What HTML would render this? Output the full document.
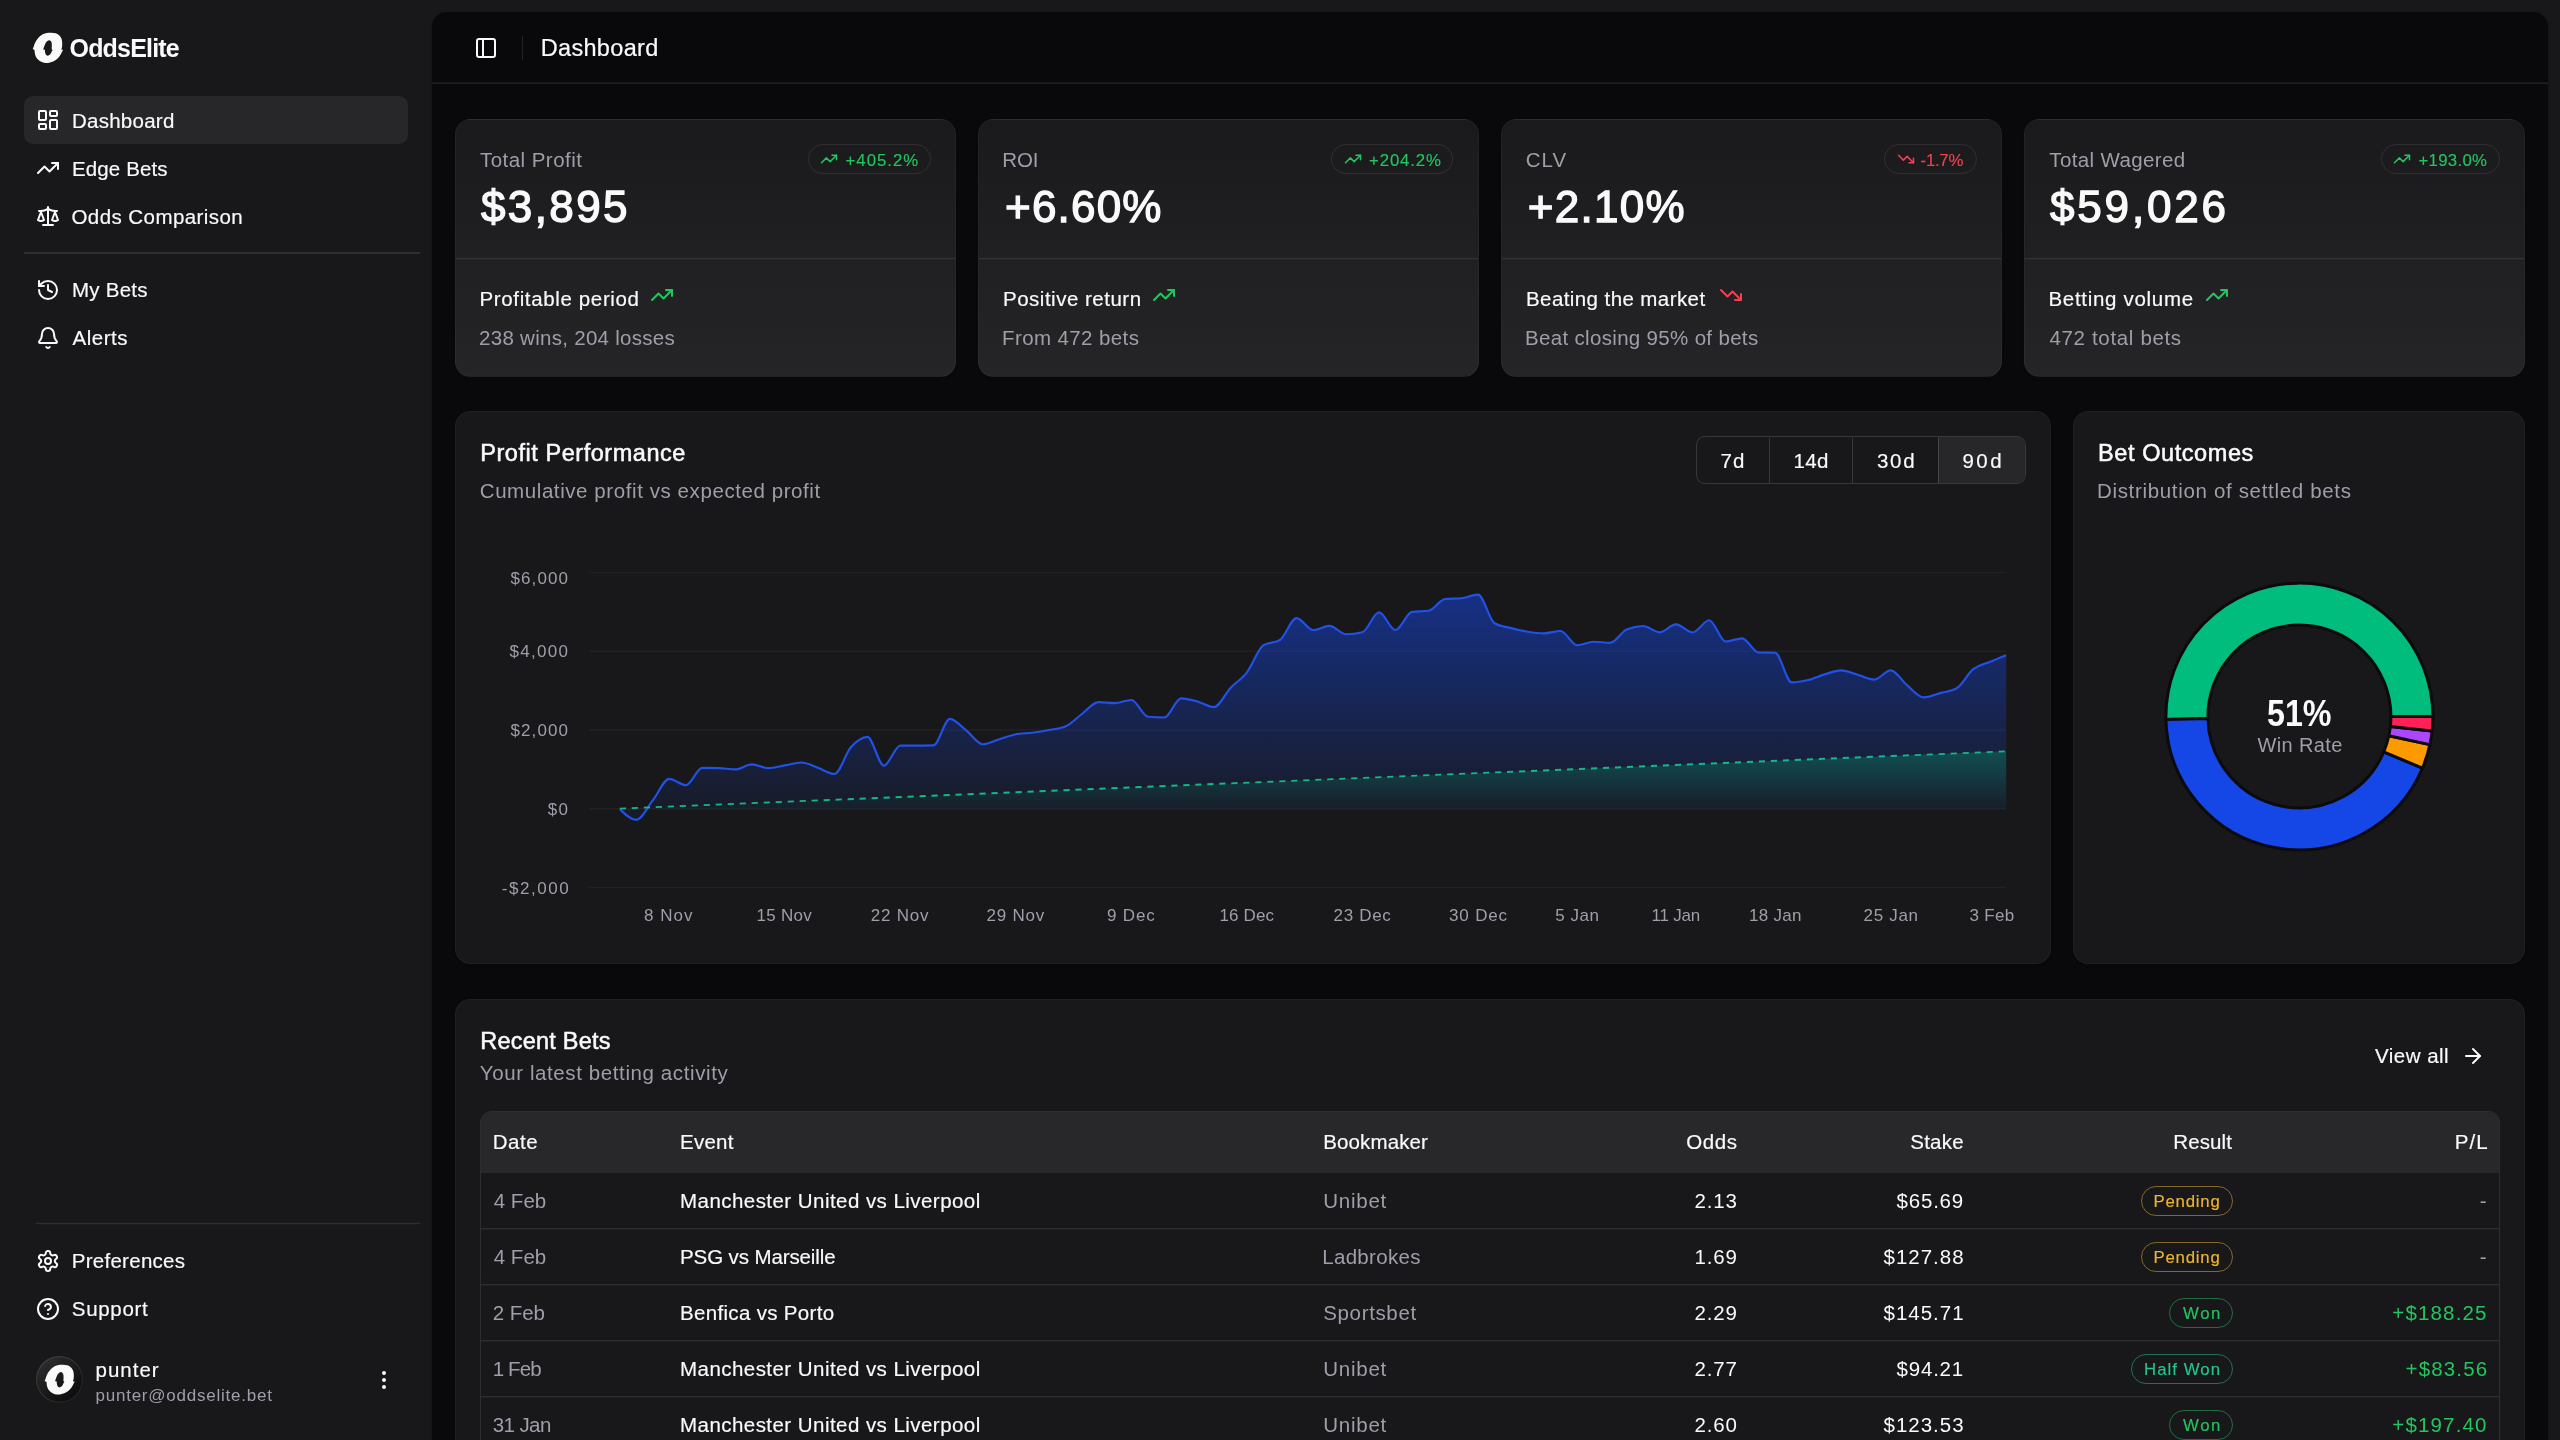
<!DOCTYPE html>
<html lang="en"><head><meta charset="utf-8"><title>OddsElite Dashboard</title><style>
html,body{margin:0;padding:0}
html{width:2560px;height:1440px;overflow:hidden;background:#18181b}
body{width:2560px;height:1440px;overflow:hidden;position:relative;background:#18181b;font-family:"Liberation Sans",sans-serif;color:#fafafa}
.abs,.t,.ic,.card{position:absolute}
.ic{overflow:visible}
.t{white-space:pre;line-height:1}
#txt{position:absolute;left:0;top:0;width:2560px;height:1440px;will-change:transform}
.card{box-sizing:border-box;border:1.5px solid rgba(255,255,255,.035);border-radius:15.5px;background:#18181b;box-shadow:0 1.5px 3px rgba(0,0,0,.05)}
.grad{background:linear-gradient(to bottom,#1a1a1d,#252528)}
</style></head><body>
<div class="abs" style="left:24px;top:96px;width:384px;height:48px;border-radius:9px;background:#27272a"></div>
<div class="abs" style="left:24px;top:252px;width:396px;height:1px;background:rgba(255,255,255,0.1)"></div>
<div class="abs" style="left:24px;top:253px;width:396px;height:1px;background:rgba(255,255,255,0.1)"></div>
<div class="abs" style="left:36px;top:1222px;width:384px;height:1px;background:rgba(255,255,255,0.015)"></div>
<div class="abs" style="left:36px;top:1223px;width:384px;height:1px;background:rgba(255,255,255,0.1)"></div>
<div class="abs" style="left:36px;top:1224px;width:384px;height:1px;background:rgba(255,255,255,0.02)"></div>
<svg class="ic" style="left:33px;top:33px" width="30" height="30" viewBox="0 0 30 30"><path fill="#fafafa" fill-rule="evenodd" d="M18.06,-0.28C19.72,-0.25 21.48,-0.09 22.78,0.28C24.07,0.65 24.95,1.20 25.83,1.94C26.71,2.69 27.52,3.70 28.06,4.72C28.59,5.74 28.83,6.90 29.03,8.06C29.22,9.21 29.25,10.51 29.22,11.67C29.19,12.82 28.97,14.21 28.83,15.00C28.70,15.79 28.20,16.09 28.42,16.39C28.63,16.69 29.85,16.74 30.14,16.81C30.43,16.88 30.25,16.60 30.14,16.81C30.02,17.01 29.79,17.38 29.44,18.06C29.10,18.73 28.66,19.81 28.06,20.83C27.45,21.85 26.71,23.15 25.83,24.17C24.95,25.19 23.84,26.18 22.78,26.94C21.71,27.71 20.56,28.29 19.44,28.75C18.33,29.21 17.22,29.52 16.11,29.72C15.00,29.92 13.89,30.01 12.78,29.94C11.67,29.88 10.56,29.71 9.44,29.31C8.33,28.90 7.08,28.22 6.11,27.50C5.14,26.78 4.26,25.93 3.61,25.00C2.96,24.07 2.55,22.96 2.22,21.94C1.90,20.93 1.78,19.68 1.67,18.89C1.55,18.10 1.85,17.69 1.53,17.22C1.20,16.76 0.02,16.30 -0.28,16.11C-0.58,15.93 -0.42,16.48 -0.28,16.11C-0.14,15.74 0.30,14.63 0.56,13.89C0.81,13.15 0.93,12.50 1.25,11.67C1.57,10.83 1.97,9.81 2.50,8.89C3.03,7.96 3.70,7.04 4.44,6.11C5.19,5.19 6.06,4.14 6.94,3.33C7.82,2.52 8.75,1.78 9.72,1.25C10.69,0.72 11.39,0.39 12.78,0.14C14.17,-0.12 16.39,-0.30 18.06,-0.28ZM16.11,7.22C16.67,7.25 17.36,7.59 17.78,8.06C18.19,8.52 18.44,9.21 18.61,10.00C18.78,10.79 18.80,11.85 18.81,12.78C18.81,13.70 18.65,14.93 18.67,15.56C18.68,16.18 18.69,16.25 18.89,16.53C19.09,16.81 19.70,17.11 19.86,17.22C20.02,17.34 20.02,17.08 19.86,17.22C19.70,17.36 19.19,17.59 18.89,18.06C18.59,18.52 18.43,19.40 18.06,20.00C17.69,20.60 17.18,21.23 16.67,21.67C16.16,22.11 15.51,22.52 15.00,22.64C14.49,22.75 14.03,22.66 13.61,22.36C13.19,22.06 12.78,21.46 12.50,20.83C12.22,20.21 12.05,19.26 11.94,18.61C11.84,17.96 12.19,17.29 11.89,16.94C11.59,16.60 10.43,16.60 10.14,16.53C9.85,16.46 10.02,16.88 10.14,16.53C10.25,16.18 10.58,15.16 10.83,14.44C11.09,13.73 11.34,13.01 11.67,12.22C11.99,11.44 12.31,10.44 12.78,9.72C13.24,9.00 13.89,8.33 14.44,7.92C15.00,7.50 15.56,7.20 16.11,7.22Z"/></svg>
<svg class="ic" style="left:36px;top:108px" width="24" height="24" viewBox="0 0 24 24" fill="none" stroke="#fafafa" stroke-width="2" stroke-linecap="round" stroke-linejoin="round"><rect width="7" height="9" x="3" y="3" rx="1"/><rect width="7" height="5" x="14" y="3" rx="1"/><rect width="7" height="9" x="14" y="12" rx="1"/><rect width="7" height="5" x="3" y="16" rx="1"/></svg>
<svg class="ic" style="left:36px;top:156px" width="24" height="24" viewBox="0 0 24 24" fill="none" stroke="#fafafa" stroke-width="2" stroke-linecap="round" stroke-linejoin="round"><polyline points="22 7 13.5 15.5 8.5 10.5 2 17"/><polyline points="16 7 22 7 22 13"/></svg>
<svg class="ic" style="left:36px;top:204px" width="24" height="24" viewBox="0 0 24 24" fill="none" stroke="#fafafa" stroke-width="2" stroke-linecap="round" stroke-linejoin="round"><path d="m16 16 3-8 3 8c-.87.65-1.92 1-3 1s-2.13-.35-3-1Z"/><path d="m2 16 3-8 3 8c-.87.65-1.92 1-3 1s-2.13-.35-3-1Z"/><path d="M7 21h10"/><path d="M12 3v18"/><path d="M3 7h2c2 0 5-1 7-2 2 1 5 2 7 2h2"/></svg>
<svg class="ic" style="left:36px;top:277.5px" width="24" height="24" viewBox="0 0 24 24" fill="none" stroke="#fafafa" stroke-width="2" stroke-linecap="round" stroke-linejoin="round"><path d="M3 12a9 9 0 1 0 9-9 9.75 9.75 0 0 0-6.74 2.74L3 8"/><path d="M3 3v5h5"/><path d="M12 7v5l4 2"/></svg>
<svg class="ic" style="left:36px;top:325.5px" width="24" height="24" viewBox="0 0 24 24" fill="none" stroke="#fafafa" stroke-width="2" stroke-linecap="round" stroke-linejoin="round"><path d="M10.268 21a2 2 0 0 0 3.464 0"/><path d="M3.262 15.326A1 1 0 0 0 4 17h16a1 1 0 0 0 .74-1.673C19.41 13.956 18 12.499 18 8A6 6 0 0 0 6 8c0 4.499-1.411 5.956-2.738 7.326"/></svg>
<svg class="ic" style="left:36px;top:1248.5px" width="24" height="24" viewBox="0 0 24 24" fill="none" stroke="#fafafa" stroke-width="2" stroke-linecap="round" stroke-linejoin="round"><path d="M12.22 2h-.44a2 2 0 0 0-2 2v.18a2 2 0 0 1-1 1.73l-.43.25a2 2 0 0 1-2 0l-.15-.08a2 2 0 0 0-2.73.73l-.22.38a2 2 0 0 0 .73 2.73l.15.1a2 2 0 0 1 1 1.72v.51a2 2 0 0 1-1 1.74l-.15.09a2 2 0 0 0-.73 2.73l.22.38a2 2 0 0 0 2.73.73l.15-.08a2 2 0 0 1 2 0l.43.25a2 2 0 0 1 1 1.73V20a2 2 0 0 0 2 2h.44a2 2 0 0 0 2-2v-.18a2 2 0 0 1 1-1.73l.43-.25a2 2 0 0 1 2 0l.15.08a2 2 0 0 0 2.73-.73l.22-.39a2 2 0 0 0-.73-2.73l-.15-.08a2 2 0 0 1-1-1.74v-.5a2 2 0 0 1 1-1.74l.15-.09a2 2 0 0 0 .73-2.73l-.22-.38a2 2 0 0 0-2.73-.73l-.15.08a2 2 0 0 1-2 0l-.43-.25a2 2 0 0 1-1-1.73V4a2 2 0 0 0-2-2z"/><circle cx="12" cy="12" r="3"/></svg>
<svg class="ic" style="left:36px;top:1296.75px" width="24" height="24" viewBox="0 0 24 24" fill="none" stroke="#fafafa" stroke-width="2" stroke-linecap="round" stroke-linejoin="round"><circle cx="12" cy="12" r="10"/><path d="M9.09 9a3 3 0 0 1 5.83 1c0 2-3 3-3 3"/><path d="M12 17h.01"/></svg>
<div class="abs" style="left:35.9px;top:1355.8px;width:47.4px;height:47.2px;border-radius:50%;background:linear-gradient(140deg,#303031 5%,#1a1a1b 50%,#09090a 95%);box-shadow:inset 0 0 0 1.2px rgba(255,255,255,.09)"></div>
<svg class="ic" style="left:44.9px;top:1365.4px" width="29.6" height="29.6" viewBox="0 0 30 30"><path fill="#fafafa" fill-rule="evenodd" d="M18.06,-0.28C19.72,-0.25 21.48,-0.09 22.78,0.28C24.07,0.65 24.95,1.20 25.83,1.94C26.71,2.69 27.52,3.70 28.06,4.72C28.59,5.74 28.83,6.90 29.03,8.06C29.22,9.21 29.25,10.51 29.22,11.67C29.19,12.82 28.97,14.21 28.83,15.00C28.70,15.79 28.20,16.09 28.42,16.39C28.63,16.69 29.85,16.74 30.14,16.81C30.43,16.88 30.25,16.60 30.14,16.81C30.02,17.01 29.79,17.38 29.44,18.06C29.10,18.73 28.66,19.81 28.06,20.83C27.45,21.85 26.71,23.15 25.83,24.17C24.95,25.19 23.84,26.18 22.78,26.94C21.71,27.71 20.56,28.29 19.44,28.75C18.33,29.21 17.22,29.52 16.11,29.72C15.00,29.92 13.89,30.01 12.78,29.94C11.67,29.88 10.56,29.71 9.44,29.31C8.33,28.90 7.08,28.22 6.11,27.50C5.14,26.78 4.26,25.93 3.61,25.00C2.96,24.07 2.55,22.96 2.22,21.94C1.90,20.93 1.78,19.68 1.67,18.89C1.55,18.10 1.85,17.69 1.53,17.22C1.20,16.76 0.02,16.30 -0.28,16.11C-0.58,15.93 -0.42,16.48 -0.28,16.11C-0.14,15.74 0.30,14.63 0.56,13.89C0.81,13.15 0.93,12.50 1.25,11.67C1.57,10.83 1.97,9.81 2.50,8.89C3.03,7.96 3.70,7.04 4.44,6.11C5.19,5.19 6.06,4.14 6.94,3.33C7.82,2.52 8.75,1.78 9.72,1.25C10.69,0.72 11.39,0.39 12.78,0.14C14.17,-0.12 16.39,-0.30 18.06,-0.28ZM16.11,7.22C16.67,7.25 17.36,7.59 17.78,8.06C18.19,8.52 18.44,9.21 18.61,10.00C18.78,10.79 18.80,11.85 18.81,12.78C18.81,13.70 18.65,14.93 18.67,15.56C18.68,16.18 18.69,16.25 18.89,16.53C19.09,16.81 19.70,17.11 19.86,17.22C20.02,17.34 20.02,17.08 19.86,17.22C19.70,17.36 19.19,17.59 18.89,18.06C18.59,18.52 18.43,19.40 18.06,20.00C17.69,20.60 17.18,21.23 16.67,21.67C16.16,22.11 15.51,22.52 15.00,22.64C14.49,22.75 14.03,22.66 13.61,22.36C13.19,22.06 12.78,21.46 12.50,20.83C12.22,20.21 12.05,19.26 11.94,18.61C11.84,17.96 12.19,17.29 11.89,16.94C11.59,16.60 10.43,16.60 10.14,16.53C9.85,16.46 10.02,16.88 10.14,16.53C10.25,16.18 10.58,15.16 10.83,14.44C11.09,13.73 11.34,13.01 11.67,12.22C11.99,11.44 12.31,10.44 12.78,9.72C13.24,9.00 13.89,8.33 14.44,7.92C15.00,7.50 15.56,7.20 16.11,7.22Z"/></svg>
<svg class="ic" style="left:372px;top:1368px" width="24" height="24" viewBox="0 0 24 24" fill="none" stroke="#fafafa" stroke-width="2" stroke-linecap="round" stroke-linejoin="round"><circle cx="12" cy="12" r="1"/><circle cx="12" cy="5" r="1"/><circle cx="12" cy="19" r="1"/></svg>
<div class="abs" style="left:432px;top:12px;width:2116px;height:1428px;border-radius:15px 15px 0 0;background:#09090b;box-shadow:0 1px 3px rgba(0,0,0,.3)"></div>
<div class="abs" style="left:432px;top:82px;width:2116px;height:1px;background:rgba(255,255,255,0.05)"></div>
<div class="abs" style="left:432px;top:83px;width:2116px;height:1px;background:rgba(255,255,255,0.09)"></div>
<svg class="ic" style="left:474px;top:36px" width="24" height="24" viewBox="0 0 24 24" fill="none" stroke="#fafafa" stroke-width="2" stroke-linecap="round" stroke-linejoin="round"><rect width="18" height="18" x="3" y="3" rx="2"/><path d="M9 3v18"/></svg>
<div class="abs" style="left:521.7px;top:36px;width:1.5px;height:24px;background:#232326"></div>
<div class="card grad" style="left:455px;top:118.7px;width:501.3px;height:258.8px"></div>
<div class="abs" style="left:456px;top:258px;width:499.3px;height:1px;background:rgba(255,255,255,0.085)"></div>
<div class="abs" style="left:456px;top:259px;width:499.3px;height:1px;background:rgba(255,255,255,0.025)"></div>
<div class="card grad" style="left:978px;top:118.7px;width:501.3px;height:258.8px"></div>
<div class="abs" style="left:979px;top:258px;width:499.3px;height:1px;background:rgba(255,255,255,0.085)"></div>
<div class="abs" style="left:979px;top:259px;width:499.3px;height:1px;background:rgba(255,255,255,0.025)"></div>
<div class="card grad" style="left:1501px;top:118.7px;width:501.3px;height:258.8px"></div>
<div class="abs" style="left:1502px;top:258px;width:499.3px;height:1px;background:rgba(255,255,255,0.085)"></div>
<div class="abs" style="left:1502px;top:259px;width:499.3px;height:1px;background:rgba(255,255,255,0.025)"></div>
<div class="card grad" style="left:2024px;top:118.7px;width:501.3px;height:258.8px"></div>
<div class="abs" style="left:2025px;top:258px;width:499.3px;height:1px;background:rgba(255,255,255,0.085)"></div>
<div class="abs" style="left:2025px;top:259px;width:499.3px;height:1px;background:rgba(255,255,255,0.025)"></div>
<div class="abs" style="left:808px;top:144.25px;width:122.75px;height:29.5px;border-radius:15px;border:1.5px solid rgba(255,255,255,.085);box-sizing:border-box"></div>
<svg class="ic" style="left:820.4px;top:149.8px" width="18" height="18" viewBox="0 0 24 24" fill="none" stroke="#22c55e" stroke-width="2" stroke-linecap="round" stroke-linejoin="round"><polyline points="22 7 13.5 15.5 8.5 10.5 2 17"/><polyline points="16 7 22 7 22 13"/></svg>
<div class="abs" style="left:1331.25px;top:144.25px;width:122.0px;height:29.5px;border-radius:15px;border:1.5px solid rgba(255,255,255,.085);box-sizing:border-box"></div>
<svg class="ic" style="left:1343.65px;top:149.8px" width="18" height="18" viewBox="0 0 24 24" fill="none" stroke="#22c55e" stroke-width="2" stroke-linecap="round" stroke-linejoin="round"><polyline points="22 7 13.5 15.5 8.5 10.5 2 17"/><polyline points="16 7 22 7 22 13"/></svg>
<div class="abs" style="left:1884.25px;top:144.25px;width:92.75px;height:29.5px;border-radius:15px;border:1.5px solid rgba(255,255,255,.085);box-sizing:border-box"></div>
<svg class="ic" style="left:1896.65px;top:149.8px" width="18" height="18" viewBox="0 0 24 24" fill="none" stroke="#f2404f" stroke-width="2" stroke-linecap="round" stroke-linejoin="round"><polyline points="22 17 13.5 8.5 8.5 13.5 2 7"/><polyline points="16 17 22 17 22 11"/></svg>
<div class="abs" style="left:2380.75px;top:144.25px;width:118.75px;height:29.5px;border-radius:15px;border:1.5px solid rgba(255,255,255,.085);box-sizing:border-box"></div>
<svg class="ic" style="left:2393.15px;top:149.8px" width="18" height="18" viewBox="0 0 24 24" fill="none" stroke="#22c55e" stroke-width="2" stroke-linecap="round" stroke-linejoin="round"><polyline points="22 7 13.5 15.5 8.5 10.5 2 17"/><polyline points="16 7 22 7 22 13"/></svg>
<svg class="ic" style="left:649.7px;top:283.3px" width="24" height="24" viewBox="0 0 24 24" fill="none" stroke="#22c55e" stroke-width="2" stroke-linecap="round" stroke-linejoin="round"><polyline points="22 7 13.5 15.5 8.5 10.5 2 17"/><polyline points="16 7 22 7 22 13"/></svg>
<svg class="ic" style="left:1152px;top:283.3px" width="24" height="24" viewBox="0 0 24 24" fill="none" stroke="#22c55e" stroke-width="2" stroke-linecap="round" stroke-linejoin="round"><polyline points="22 7 13.5 15.5 8.5 10.5 2 17"/><polyline points="16 7 22 7 22 13"/></svg>
<svg class="ic" style="left:1718.7px;top:283.3px" width="24" height="24" viewBox="0 0 24 24" fill="none" stroke="#f2404f" stroke-width="2" stroke-linecap="round" stroke-linejoin="round"><polyline points="22 17 13.5 8.5 8.5 13.5 2 7"/><polyline points="16 17 22 17 22 11"/></svg>
<svg class="ic" style="left:2205.2px;top:283.3px" width="24" height="24" viewBox="0 0 24 24" fill="none" stroke="#22c55e" stroke-width="2" stroke-linecap="round" stroke-linejoin="round"><polyline points="22 7 13.5 15.5 8.5 10.5 2 17"/><polyline points="16 7 22 7 22 13"/></svg>
<div class="card" style="left:455px;top:411.2px;width:1596.3px;height:553.3px"></div>
<div class="abs" style="left:1696px;top:436.3px;width:330px;height:47.6px;border-radius:9px;border:1.5px solid rgba(255,255,255,.14);box-sizing:border-box;overflow:hidden"><div class="abs" style="left:241px;top:-1.5px;width:89px;height:47.2px;background:#27272a"></div></div>
<div class="abs" style="left:1768.65px;top:437.5px;width:1.5px;height:45px;background:rgba(255,255,255,.14)"></div>
<div class="abs" style="left:1851.75px;top:437.5px;width:1.5px;height:45px;background:rgba(255,255,255,.14)"></div>
<div class="abs" style="left:1937.65px;top:437.5px;width:1.5px;height:45px;background:rgba(255,255,255,.14)"></div>
<svg class="ic" style="left:0;top:0" width="2560" height="1440" viewBox="0 0 2560 1440">
<defs>
<linearGradient id="gb" gradientUnits="userSpaceOnUse" x1="0" y1="594" x2="0" y2="820"><stop offset="0.05" stop-color="#1447e6" stop-opacity="0.5"/><stop offset="0.95" stop-color="#1447e6" stop-opacity="0.06"/></linearGradient>
<linearGradient id="gg" gradientUnits="userSpaceOnUse" x1="0" y1="751" x2="0" y2="809"><stop offset="0.05" stop-color="#00bc7d" stop-opacity="0.28"/><stop offset="0.95" stop-color="#00bc7d" stop-opacity="0.03"/></linearGradient>
</defs>
<g stroke="rgba(255,255,255,.045)" stroke-width="1.5"><line x1="589.5" x2="2006.2" y1="572.4" y2="572.4"/><line x1="589.5" x2="2006.2" y1="651.2" y2="651.2"/><line x1="589.5" x2="2006.2" y1="730" y2="730"/><line x1="589.5" x2="2006.2" y1="808.75" y2="808.75"/><line x1="589.5" x2="2006.2" y1="887.4" y2="887.4"/></g>
<path d="M619.8,809.2C625.3,814.5 630.8,819.8 636.3,819.8C641.8,819.8 647.3,807.2 652.8,800.4C658.3,793.6 663.8,778.8 669.3,778.8C674.8,778.8 680.3,785.2 685.8,785.2C691.3,785.2 696.8,767.9 702.3,767.9C707.8,767.9 713.3,768.0 718.8,768.1C724.3,768.2 729.8,769.4 735.3,769.4C740.8,769.4 746.3,764.4 751.8,764.4C757.3,764.4 762.8,768.1 768.3,768.1C773.8,768.1 779.3,766.3 784.8,765.4C790.3,764.5 795.9,762.5 801.4,762.5C806.9,762.5 812.4,765.8 817.9,767.7C823.4,769.6 828.9,774.0 834.4,774.0C839.9,774.0 845.4,753.5 850.9,747.3C856.4,741.1 861.9,736.9 867.4,736.9C872.9,736.9 878.4,765.6 883.9,765.6C889.4,765.6 894.9,745.6 900.4,745.6C905.9,745.6 911.4,745.6 916.9,745.6C922.4,745.6 927.9,745.5 933.4,745.4C938.9,745.3 944.4,718.8 949.9,718.8C955.4,718.8 960.9,726.4 966.4,730.6C971.9,734.8 977.4,744.2 982.9,744.2C988.4,744.2 993.9,740.9 999.4,739.2C1004.9,737.5 1010.4,735.2 1015.9,734.2C1021.4,733.2 1026.9,733.4 1032.4,732.7C1037.9,732.0 1043.4,731.0 1048.9,730.0C1054.4,729.0 1059.9,728.8 1065.4,726.5C1070.9,724.2 1076.4,718.1 1081.9,714.0C1087.4,709.9 1092.9,702.1 1098.4,702.1C1103.9,702.1 1109.4,703.1 1114.9,703.1C1120.4,703.1 1125.9,700.0 1131.4,700.0C1136.9,700.0 1142.5,716.2 1148.0,716.7C1153.5,717.2 1159.0,717.5 1164.5,717.5C1170.0,717.5 1175.5,698.3 1181.0,698.3C1186.5,698.3 1192.0,700.0 1197.5,701.5C1203.0,703.0 1208.5,707.1 1214.0,707.1C1219.5,707.1 1225.0,693.7 1230.5,687.9C1236.0,682.1 1241.5,679.4 1247.0,672.3C1252.5,665.2 1258.0,648.7 1263.5,645.2C1269.0,641.7 1274.5,643.5 1280.0,640.0C1285.5,636.5 1291.0,618.1 1296.5,618.1C1302.0,618.1 1307.5,630.0 1313.0,630.0C1318.5,630.0 1324.0,625.8 1329.5,625.8C1335.0,625.8 1340.5,634.2 1346.0,634.2C1351.5,634.2 1357.0,633.5 1362.5,632.2C1368.0,630.9 1373.5,612.4 1379.0,612.4C1384.5,612.4 1390.0,630.0 1395.5,630.0C1401.0,630.0 1406.5,612.6 1412.0,611.9C1417.5,611.2 1423.0,611.5 1428.5,610.8C1434.0,610.1 1439.5,599.5 1445.0,599.0C1450.5,598.5 1456.0,598.8 1461.5,598.3C1467.0,597.8 1472.5,594.6 1478.0,594.6C1483.5,594.6 1489.1,620.1 1494.6,623.3C1500.1,626.5 1505.6,626.7 1511.1,628.1C1516.6,629.5 1522.1,630.8 1527.6,631.7C1533.1,632.6 1538.6,633.3 1544.1,633.3C1549.6,633.3 1555.1,631.0 1560.6,631.0C1566.1,631.0 1571.6,645.2 1577.1,645.2C1582.6,645.2 1588.1,641.7 1593.6,641.7C1599.1,641.7 1604.6,642.9 1610.1,642.9C1615.6,642.9 1621.1,632.0 1626.6,629.6C1632.1,627.2 1637.6,626.0 1643.1,626.0C1648.6,626.0 1654.1,632.3 1659.6,632.3C1665.1,632.3 1670.6,624.4 1676.1,624.4C1681.6,624.4 1687.1,632.5 1692.6,632.5C1698.1,632.5 1703.6,620.2 1709.1,620.2C1714.6,620.2 1720.1,641.5 1725.6,641.5C1731.1,641.5 1736.6,638.3 1742.1,638.3C1747.6,638.3 1753.1,652.4 1758.6,652.5C1764.1,652.6 1769.6,652.6 1775.1,652.7C1780.6,652.8 1786.1,682.3 1791.6,682.3C1797.1,682.3 1802.6,681.3 1808.1,680.0C1813.6,678.7 1819.1,676.0 1824.6,674.4C1830.1,672.8 1835.7,670.4 1841.2,670.4C1846.7,670.4 1852.2,673.3 1857.7,674.8C1863.2,676.3 1868.7,679.6 1874.2,679.6C1879.7,679.6 1885.2,670.4 1890.7,670.4C1896.2,670.4 1901.7,680.9 1907.2,685.4C1912.7,689.9 1918.2,697.3 1923.7,697.3C1929.2,697.3 1934.7,694.6 1940.2,693.1C1945.7,691.6 1951.2,691.5 1956.7,688.3C1962.2,685.1 1967.7,673.6 1973.2,669.2C1978.7,664.8 1984.2,664.2 1989.7,661.9C1995.2,659.6 2000.7,657.4 2006.2,655.2L2006.2,808.75L619.8,808.75Z" fill="url(#gb)"/>
<path d="M619.8,809.2C625.3,814.5 630.8,819.8 636.3,819.8C641.8,819.8 647.3,807.2 652.8,800.4C658.3,793.6 663.8,778.8 669.3,778.8C674.8,778.8 680.3,785.2 685.8,785.2C691.3,785.2 696.8,767.9 702.3,767.9C707.8,767.9 713.3,768.0 718.8,768.1C724.3,768.2 729.8,769.4 735.3,769.4C740.8,769.4 746.3,764.4 751.8,764.4C757.3,764.4 762.8,768.1 768.3,768.1C773.8,768.1 779.3,766.3 784.8,765.4C790.3,764.5 795.9,762.5 801.4,762.5C806.9,762.5 812.4,765.8 817.9,767.7C823.4,769.6 828.9,774.0 834.4,774.0C839.9,774.0 845.4,753.5 850.9,747.3C856.4,741.1 861.9,736.9 867.4,736.9C872.9,736.9 878.4,765.6 883.9,765.6C889.4,765.6 894.9,745.6 900.4,745.6C905.9,745.6 911.4,745.6 916.9,745.6C922.4,745.6 927.9,745.5 933.4,745.4C938.9,745.3 944.4,718.8 949.9,718.8C955.4,718.8 960.9,726.4 966.4,730.6C971.9,734.8 977.4,744.2 982.9,744.2C988.4,744.2 993.9,740.9 999.4,739.2C1004.9,737.5 1010.4,735.2 1015.9,734.2C1021.4,733.2 1026.9,733.4 1032.4,732.7C1037.9,732.0 1043.4,731.0 1048.9,730.0C1054.4,729.0 1059.9,728.8 1065.4,726.5C1070.9,724.2 1076.4,718.1 1081.9,714.0C1087.4,709.9 1092.9,702.1 1098.4,702.1C1103.9,702.1 1109.4,703.1 1114.9,703.1C1120.4,703.1 1125.9,700.0 1131.4,700.0C1136.9,700.0 1142.5,716.2 1148.0,716.7C1153.5,717.2 1159.0,717.5 1164.5,717.5C1170.0,717.5 1175.5,698.3 1181.0,698.3C1186.5,698.3 1192.0,700.0 1197.5,701.5C1203.0,703.0 1208.5,707.1 1214.0,707.1C1219.5,707.1 1225.0,693.7 1230.5,687.9C1236.0,682.1 1241.5,679.4 1247.0,672.3C1252.5,665.2 1258.0,648.7 1263.5,645.2C1269.0,641.7 1274.5,643.5 1280.0,640.0C1285.5,636.5 1291.0,618.1 1296.5,618.1C1302.0,618.1 1307.5,630.0 1313.0,630.0C1318.5,630.0 1324.0,625.8 1329.5,625.8C1335.0,625.8 1340.5,634.2 1346.0,634.2C1351.5,634.2 1357.0,633.5 1362.5,632.2C1368.0,630.9 1373.5,612.4 1379.0,612.4C1384.5,612.4 1390.0,630.0 1395.5,630.0C1401.0,630.0 1406.5,612.6 1412.0,611.9C1417.5,611.2 1423.0,611.5 1428.5,610.8C1434.0,610.1 1439.5,599.5 1445.0,599.0C1450.5,598.5 1456.0,598.8 1461.5,598.3C1467.0,597.8 1472.5,594.6 1478.0,594.6C1483.5,594.6 1489.1,620.1 1494.6,623.3C1500.1,626.5 1505.6,626.7 1511.1,628.1C1516.6,629.5 1522.1,630.8 1527.6,631.7C1533.1,632.6 1538.6,633.3 1544.1,633.3C1549.6,633.3 1555.1,631.0 1560.6,631.0C1566.1,631.0 1571.6,645.2 1577.1,645.2C1582.6,645.2 1588.1,641.7 1593.6,641.7C1599.1,641.7 1604.6,642.9 1610.1,642.9C1615.6,642.9 1621.1,632.0 1626.6,629.6C1632.1,627.2 1637.6,626.0 1643.1,626.0C1648.6,626.0 1654.1,632.3 1659.6,632.3C1665.1,632.3 1670.6,624.4 1676.1,624.4C1681.6,624.4 1687.1,632.5 1692.6,632.5C1698.1,632.5 1703.6,620.2 1709.1,620.2C1714.6,620.2 1720.1,641.5 1725.6,641.5C1731.1,641.5 1736.6,638.3 1742.1,638.3C1747.6,638.3 1753.1,652.4 1758.6,652.5C1764.1,652.6 1769.6,652.6 1775.1,652.7C1780.6,652.8 1786.1,682.3 1791.6,682.3C1797.1,682.3 1802.6,681.3 1808.1,680.0C1813.6,678.7 1819.1,676.0 1824.6,674.4C1830.1,672.8 1835.7,670.4 1841.2,670.4C1846.7,670.4 1852.2,673.3 1857.7,674.8C1863.2,676.3 1868.7,679.6 1874.2,679.6C1879.7,679.6 1885.2,670.4 1890.7,670.4C1896.2,670.4 1901.7,680.9 1907.2,685.4C1912.7,689.9 1918.2,697.3 1923.7,697.3C1929.2,697.3 1934.7,694.6 1940.2,693.1C1945.7,691.6 1951.2,691.5 1956.7,688.3C1962.2,685.1 1967.7,673.6 1973.2,669.2C1978.7,664.8 1984.2,664.2 1989.7,661.9C1995.2,659.6 2000.7,657.4 2006.2,655.2" fill="none" stroke="#2151e8" stroke-width="2.15" stroke-linejoin="round"/>
<path d="M619.8,808.6L2006.2,751.3L2006.2,808.75L619.8,808.75Z" fill="url(#gg)"/>
<path d="M619.8,808.6L2006.2,751.3" fill="none" stroke="#14b886" stroke-width="1.9" stroke-dasharray="6.2 5.8"/>
</svg>
<div class="card" style="left:2073px;top:411.2px;width:452px;height:553.3px"></div>
<svg class="ic" style="left:0;top:0" width="2560" height="1440" viewBox="0 0 2560 1440"><g stroke="#0b0b0d" stroke-width="3" stroke-linejoin="round"><path d="M2432.90,716.40A133.5,133.5 0 1 0 2165.93,719.43L2207.92,718.48A91.5,91.5 0 1 1 2390.90,716.40Z" fill="#00bc7d"/><path d="M2165.93,719.43A133.5,133.5 0 0 0 2422.47,768.13L2383.75,751.86A91.5,91.5 0 0 1 2207.92,718.48Z" fill="#1447e6"/><path d="M2422.47,768.13A133.5,133.5 0 0 0 2429.89,744.61L2388.83,735.74A91.5,91.5 0 0 1 2383.75,751.86Z" fill="#fe9a00"/><path d="M2429.89,744.61A133.5,133.5 0 0 0 2432.09,731.05L2390.35,726.44A91.5,91.5 0 0 1 2388.83,735.74Z" fill="#ad46ff"/><path d="M2432.09,731.05A133.5,133.5 0 0 0 2432.90,716.40L2390.90,716.40A91.5,91.5 0 0 1 2390.35,726.44Z" fill="#ff2056"/></g></svg>
<div class="card" style="left:455px;top:999.4px;width:2070px;height:440.6px;border-bottom:0;border-radius:15.5px 15.5px 0 0"></div>
<svg class="ic" style="left:2460.5px;top:1043.8px" width="24" height="24" viewBox="0 0 24 24" fill="none" stroke="#fafafa" stroke-width="2" stroke-linecap="round" stroke-linejoin="round"><path d="M5 12h14"/><path d="m12 5 7 7-7 7"/></svg>
<div class="abs" style="left:480px;top:1111px;width:2019.5px;height:329px;border-radius:12px 12px 0 0;border:1.5px solid rgba(255,255,255,.095);border-bottom:0;box-sizing:border-box;overflow:hidden"><div class="abs" style="left:0;top:0;width:2020px;height:60.5px;background:#28282b"></div></div>
<div class="abs" style="left:481px;top:1228px;width:2017.5px;height:1px;background:rgba(255,255,255,0.095)"></div>
<div class="abs" style="left:481px;top:1229px;width:2017.5px;height:1px;background:rgba(255,255,255,0.035)"></div>
<div class="abs" style="left:481px;top:1284px;width:2017.5px;height:1px;background:rgba(255,255,255,0.095)"></div>
<div class="abs" style="left:481px;top:1285px;width:2017.5px;height:1px;background:rgba(255,255,255,0.035)"></div>
<div class="abs" style="left:481px;top:1340px;width:2017.5px;height:1px;background:rgba(255,255,255,0.095)"></div>
<div class="abs" style="left:481px;top:1341px;width:2017.5px;height:1px;background:rgba(255,255,255,0.035)"></div>
<div class="abs" style="left:481px;top:1396px;width:2017.5px;height:1px;background:rgba(255,255,255,0.095)"></div>
<div class="abs" style="left:481px;top:1397px;width:2017.5px;height:1px;background:rgba(255,255,255,0.035)"></div>
<div class="abs" style="left:2140.75px;top:1186.00px;width:91.75px;height:29.5px;border-radius:15px;border:1.5px solid rgba(239,182,44,.5);box-sizing:border-box"></div>
<div class="abs" style="left:2140.75px;top:1242.00px;width:91.75px;height:29.5px;border-radius:15px;border:1.5px solid rgba(239,182,44,.5);box-sizing:border-box"></div>
<div class="abs" style="left:2168.75px;top:1298.00px;width:63.75px;height:29.5px;border-radius:15px;border:1.5px solid rgba(34,197,94,.5);box-sizing:border-box"></div>
<div class="abs" style="left:2130.75px;top:1354.00px;width:101.75px;height:29.5px;border-radius:15px;border:1.5px solid rgba(34,199,139,.5);box-sizing:border-box"></div>
<div class="abs" style="left:2168.75px;top:1410.00px;width:63.75px;height:29.5px;border-radius:15px;border:1.5px solid rgba(34,197,94,.5);box-sizing:border-box"></div>
<div id="txt">
<span class="t" style="left:69.50px;top:36.33px;font-size:25px;color:#fafafa;letter-spacing:-0.812px;font-weight:700;">OddsElite</span>
<span class="t" style="left:72.00px;top:110.64px;font-size:20.5px;color:#fafafa;letter-spacing:0.250px;-webkit-text-stroke:0.18px #fafafa;">Dashboard</span>
<span class="t" style="left:72.00px;top:158.64px;font-size:20.5px;color:#fafafa;letter-spacing:0.125px;-webkit-text-stroke:0.18px #fafafa;">Edge Bets</span>
<span class="t" style="left:71.50px;top:206.64px;font-size:20.5px;color:#fafafa;letter-spacing:0.429px;-webkit-text-stroke:0.18px #fafafa;">Odds Comparison</span>
<span class="t" style="left:72.00px;top:280.14px;font-size:20.5px;color:#fafafa;letter-spacing:0.250px;-webkit-text-stroke:0.18px #fafafa;">My Bets</span>
<span class="t" style="left:72.50px;top:328.14px;font-size:20.5px;color:#fafafa;letter-spacing:0.500px;-webkit-text-stroke:0.18px #fafafa;">Alerts</span>
<span class="t" style="left:71.75px;top:1251.14px;font-size:20.5px;color:#fafafa;letter-spacing:0.275px;-webkit-text-stroke:0.18px #fafafa;">Preferences</span>
<span class="t" style="left:71.75px;top:1299.34px;font-size:20.5px;color:#fafafa;letter-spacing:0.708px;-webkit-text-stroke:0.18px #fafafa;">Support</span>
<span class="t" style="left:95.50px;top:1359.54px;font-size:20.5px;color:#fafafa;letter-spacing:1.000px;-webkit-text-stroke:0.18px #fafafa;">punter</span>
<span class="t" style="left:95.50px;top:1386.61px;font-size:17.0px;color:#9f9fa9;letter-spacing:0.763px;">punter@oddselite.bet</span>
<span class="t" style="left:540.70px;top:36.80px;font-size:23.5px;color:#fafafa;letter-spacing:0.325px;-webkit-text-stroke:0.21px #fafafa;">Dashboard</span>
<span class="t" style="left:480.00px;top:149.64px;font-size:20.5px;color:#9f9fa9;letter-spacing:0.455px;">Total Profit</span>
<span class="t" style="left:1002.25px;top:149.64px;font-size:20.5px;color:#9f9fa9;letter-spacing:-0.125px;">ROI</span>
<span class="t" style="left:1525.75px;top:149.64px;font-size:20.5px;color:#9f9fa9;letter-spacing:1.000px;">CLV</span>
<span class="t" style="left:2049.25px;top:149.64px;font-size:20.5px;color:#9f9fa9;letter-spacing:0.375px;">Total Wagered</span>
<span class="t" style="left:481.00px;top:185.35px;font-size:44px;color:#fafafa;letter-spacing:2.400px;-webkit-text-stroke:1.32px #fafafa;">$3,895</span>
<span class="t" style="left:1005.00px;top:185.35px;font-size:44px;color:#fafafa;letter-spacing:1.200px;-webkit-text-stroke:1.32px #fafafa;">+6.60%</span>
<span class="t" style="left:1527.75px;top:185.35px;font-size:44px;color:#fafafa;letter-spacing:1.300px;-webkit-text-stroke:1.32px #fafafa;">+2.10%</span>
<span class="t" style="left:2050.00px;top:185.35px;font-size:44px;color:#fafafa;letter-spacing:2.833px;-webkit-text-stroke:1.32px #fafafa;">$59,026</span>
<span class="t" style="left:479.50px;top:288.64px;font-size:20.5px;color:#fafafa;letter-spacing:0.638px;-webkit-text-stroke:0.18px #fafafa;">Profitable period</span>
<span class="t" style="left:1003.00px;top:288.64px;font-size:20.5px;color:#fafafa;letter-spacing:0.500px;-webkit-text-stroke:0.18px #fafafa;">Positive return</span>
<span class="t" style="left:1526.00px;top:288.64px;font-size:20.5px;color:#fafafa;letter-spacing:0.412px;-webkit-text-stroke:0.18px #fafafa;">Beating the market</span>
<span class="t" style="left:2048.50px;top:288.64px;font-size:20.5px;color:#fafafa;letter-spacing:0.692px;-webkit-text-stroke:0.18px #fafafa;">Betting volume</span>
<span class="t" style="left:479.00px;top:327.64px;font-size:20.5px;color:#9f9fa9;letter-spacing:0.289px;">238 wins, 204 losses</span>
<span class="t" style="left:1002.00px;top:327.64px;font-size:20.5px;color:#9f9fa9;letter-spacing:0.396px;">From 472 bets</span>
<span class="t" style="left:1525.00px;top:327.64px;font-size:20.5px;color:#9f9fa9;letter-spacing:0.326px;">Beat closing 95% of bets</span>
<span class="t" style="left:2049.50px;top:327.64px;font-size:20.5px;color:#9f9fa9;letter-spacing:0.654px;">472 total bets</span>
<span class="t" style="left:845.50px;top:153.18px;font-size:16.8px;color:#22c55e;letter-spacing:1.000px;-webkit-text-stroke:0.15px #22c55e;">+405.2%</span>
<span class="t" style="left:1369.00px;top:153.18px;font-size:16.8px;color:#22c55e;letter-spacing:0.875px;-webkit-text-stroke:0.15px #22c55e;">+204.2%</span>
<span class="t" style="left:1920.60px;top:153.18px;font-size:16.8px;color:#f2404f;letter-spacing:-0.275px;-webkit-text-stroke:0.15px #f2404f;">-1.7%</span>
<span class="t" style="left:2418.50px;top:153.18px;font-size:16.8px;color:#22c55e;letter-spacing:0.292px;-webkit-text-stroke:0.15px #22c55e;">+193.0%</span>
<span class="t" style="left:480.25px;top:441.90px;font-size:23.5px;color:#fafafa;letter-spacing:0.544px;-webkit-text-stroke:0.52px #fafafa;">Profit Performance</span>
<span class="t" style="left:479.75px;top:480.64px;font-size:20.5px;color:#9f9fa9;letter-spacing:0.579px;">Cumulative profit vs expected profit</span>
<span class="t" style="left:1720.50px;top:451.04px;font-size:20.5px;color:#fafafa;letter-spacing:1.200px;-webkit-text-stroke:0.18px #fafafa;">7d</span>
<span class="t" style="left:1793.50px;top:451.04px;font-size:20.5px;color:#fafafa;letter-spacing:0.400px;-webkit-text-stroke:0.18px #fafafa;">14d</span>
<span class="t" style="left:1876.90px;top:451.04px;font-size:20.5px;color:#fafafa;letter-spacing:1.800px;-webkit-text-stroke:0.18px #fafafa;">30d</span>
<span class="t" style="left:1962.50px;top:451.04px;font-size:20.5px;color:#fafafa;letter-spacing:2.450px;-webkit-text-stroke:0.18px #fafafa;">90d</span>
<span class="t" style="left:510.50px;top:569.91px;font-size:17.0px;color:#9f9fa9;letter-spacing:1.100px;">$6,000</span>
<span class="t" style="left:509.50px;top:643.01px;font-size:17.0px;color:#9f9fa9;letter-spacing:1.300px;">$4,000</span>
<span class="t" style="left:510.50px;top:721.61px;font-size:17.0px;color:#9f9fa9;letter-spacing:1.100px;">$2,000</span>
<span class="t" style="left:547.80px;top:800.61px;font-size:17.0px;color:#9f9fa9;letter-spacing:1.200px;">$0</span>
<span class="t" style="left:501.80px;top:880.21px;font-size:17.0px;color:#9f9fa9;letter-spacing:1.533px;">-$2,000</span>
<span class="t" style="left:644.00px;top:906.91px;font-size:17.0px;color:#9f9fa9;letter-spacing:1.000px;">8 Nov</span>
<span class="t" style="left:756.50px;top:906.91px;font-size:17.0px;color:#9f9fa9;letter-spacing:0.300px;">15 Nov</span>
<span class="t" style="left:870.75px;top:906.91px;font-size:17.0px;color:#9f9fa9;letter-spacing:0.800px;">22 Nov</span>
<span class="t" style="left:986.50px;top:906.91px;font-size:17.0px;color:#9f9fa9;letter-spacing:0.800px;">29 Nov</span>
<span class="t" style="left:1107.00px;top:906.91px;font-size:17.0px;color:#9f9fa9;letter-spacing:0.812px;">9 Dec</span>
<span class="t" style="left:1219.50px;top:906.91px;font-size:17.0px;color:#9f9fa9;letter-spacing:0.150px;">16 Dec</span>
<span class="t" style="left:1333.50px;top:906.91px;font-size:17.0px;color:#9f9fa9;letter-spacing:0.700px;">23 Dec</span>
<span class="t" style="left:1449.00px;top:906.91px;font-size:17.0px;color:#9f9fa9;letter-spacing:0.850px;">30 Dec</span>
<span class="t" style="left:1555.25px;top:906.91px;font-size:17.0px;color:#9f9fa9;letter-spacing:0.500px;">5 Jan</span>
<span class="t" style="left:1651.50px;top:906.91px;font-size:17.0px;color:#9f9fa9;letter-spacing:-0.200px;">11 Jan</span>
<span class="t" style="left:1749.00px;top:906.91px;font-size:17.0px;color:#9f9fa9;letter-spacing:0.300px;">18 Jan</span>
<span class="t" style="left:1863.50px;top:906.91px;font-size:17.0px;color:#9f9fa9;letter-spacing:0.700px;">25 Jan</span>
<span class="t" style="left:1969.50px;top:906.91px;font-size:17.0px;color:#9f9fa9;letter-spacing:0.312px;">3 Feb</span>
<span class="t" style="left:2098.00px;top:441.90px;font-size:23.5px;color:#fafafa;letter-spacing:0.582px;-webkit-text-stroke:0.52px #fafafa;">Bet Outcomes</span>
<span class="t" style="left:2097.00px;top:480.64px;font-size:20.5px;color:#9f9fa9;letter-spacing:0.667px;">Distribution of settled bets</span>
<span class="t" style="left:2267.30px;top:695.52px;font-size:36px;color:#fafafa;font-weight:700;transform:scaleX(0.8957);transform-origin:0 0;">51%</span>
<span class="t" style="left:2257.40px;top:734.87px;font-size:20px;color:#9f9fa9;letter-spacing:0.400px;">Win Rate</span>
<span class="t" style="left:480.25px;top:1030.40px;font-size:23.5px;color:#fafafa;letter-spacing:0.225px;-webkit-text-stroke:0.52px #fafafa;">Recent Bets</span>
<span class="t" style="left:479.75px;top:1062.64px;font-size:20.5px;color:#9f9fa9;letter-spacing:0.602px;">Your latest betting activity</span>
<span class="t" style="left:2375.00px;top:1045.84px;font-size:20.5px;color:#fafafa;letter-spacing:0.486px;-webkit-text-stroke:0.18px #fafafa;">View all</span>
<span class="t" style="left:492.80px;top:1131.89px;font-size:20.5px;color:#fafafa;letter-spacing:0.500px;-webkit-text-stroke:0.18px #fafafa;">Date</span>
<span class="t" style="left:680.00px;top:1131.89px;font-size:20.5px;color:#fafafa;letter-spacing:0.250px;-webkit-text-stroke:0.18px #fafafa;">Event</span>
<span class="t" style="left:1323.25px;top:1131.89px;font-size:20.5px;color:#fafafa;letter-spacing:0.125px;-webkit-text-stroke:0.18px #fafafa;">Bookmaker</span>
<span class="t" style="left:1686.25px;top:1131.89px;font-size:20.5px;color:#fafafa;letter-spacing:0.550px;-webkit-text-stroke:0.18px #fafafa;">Odds</span>
<span class="t" style="left:1910.25px;top:1131.89px;font-size:20.5px;color:#fafafa;letter-spacing:0.250px;-webkit-text-stroke:0.18px #fafafa;">Stake</span>
<span class="t" style="left:2173.25px;top:1131.89px;font-size:20.5px;color:#fafafa;letter-spacing:0.100px;-webkit-text-stroke:0.18px #fafafa;">Result</span>
<span class="t" style="left:2454.75px;top:1131.89px;font-size:20.5px;color:#fafafa;letter-spacing:1.125px;-webkit-text-stroke:0.18px #fafafa;">P/L</span>
<span class="t" style="left:493.80px;top:1190.54px;font-size:20.5px;color:#9f9fa9;letter-spacing:-0.013px;">4 Feb</span>
<span class="t" style="left:680.00px;top:1190.54px;font-size:20.5px;color:#fafafa;letter-spacing:0.452px;-webkit-text-stroke:0.18px #fafafa;">Manchester United vs Liverpool</span>
<span class="t" style="left:1323.25px;top:1190.54px;font-size:20.5px;color:#9f9fa9;letter-spacing:0.750px;">Unibet</span>
<span class="t" style="left:1694.60px;top:1190.54px;font-size:20.5px;color:#fafafa;letter-spacing:0.767px;">2.13</span>
<span class="t" style="left:1896.60px;top:1190.54px;font-size:20.5px;color:#fafafa;letter-spacing:0.780px;">$65.69</span>
<span class="t" style="left:2153.40px;top:1194.08px;font-size:16.8px;color:#efb62c;letter-spacing:0.808px;-webkit-text-stroke:0.15px #efb62c;">Pending</span>
<span class="t" style="left:2479.75px;top:1190.54px;font-size:20.5px;color:#9f9fa9;">-</span>
<span class="t" style="left:493.80px;top:1246.54px;font-size:20.5px;color:#9f9fa9;letter-spacing:-0.013px;">4 Feb</span>
<span class="t" style="left:680.00px;top:1246.54px;font-size:20.5px;color:#fafafa;letter-spacing:-0.107px;-webkit-text-stroke:0.18px #fafafa;">PSG vs Marseille</span>
<span class="t" style="left:1322.25px;top:1246.54px;font-size:20.5px;color:#9f9fa9;letter-spacing:0.306px;">Ladbrokes</span>
<span class="t" style="left:1694.60px;top:1246.54px;font-size:20.5px;color:#fafafa;letter-spacing:0.767px;">1.69</span>
<span class="t" style="left:1883.50px;top:1246.54px;font-size:20.5px;color:#fafafa;letter-spacing:1.000px;">$127.88</span>
<span class="t" style="left:2153.40px;top:1250.08px;font-size:16.8px;color:#efb62c;letter-spacing:0.808px;-webkit-text-stroke:0.15px #efb62c;">Pending</span>
<span class="t" style="left:2479.75px;top:1246.54px;font-size:20.5px;color:#9f9fa9;">-</span>
<span class="t" style="left:492.80px;top:1302.54px;font-size:20.5px;color:#9f9fa9;letter-spacing:-0.075px;">2 Feb</span>
<span class="t" style="left:680.00px;top:1302.54px;font-size:20.5px;color:#fafafa;letter-spacing:0.320px;-webkit-text-stroke:0.18px #fafafa;">Benfica vs Porto</span>
<span class="t" style="left:1323.25px;top:1302.54px;font-size:20.5px;color:#9f9fa9;letter-spacing:0.644px;">Sportsbet</span>
<span class="t" style="left:1694.60px;top:1302.54px;font-size:20.5px;color:#fafafa;letter-spacing:0.767px;">2.29</span>
<span class="t" style="left:1883.50px;top:1302.54px;font-size:20.5px;color:#fafafa;letter-spacing:1.000px;">$145.71</span>
<span class="t" style="left:2183.00px;top:1306.08px;font-size:16.8px;color:#22c55e;letter-spacing:1.625px;-webkit-text-stroke:0.15px #22c55e;">Won</span>
<span class="t" style="left:2392.30px;top:1302.54px;font-size:20.5px;color:#22c55e;letter-spacing:1.157px;">+$188.25</span>
<span class="t" style="left:492.80px;top:1358.54px;font-size:20.5px;color:#9f9fa9;letter-spacing:-0.888px;">1 Feb</span>
<span class="t" style="left:680.00px;top:1358.54px;font-size:20.5px;color:#fafafa;letter-spacing:0.452px;-webkit-text-stroke:0.18px #fafafa;">Manchester United vs Liverpool</span>
<span class="t" style="left:1323.25px;top:1358.54px;font-size:20.5px;color:#9f9fa9;letter-spacing:0.750px;">Unibet</span>
<span class="t" style="left:1694.60px;top:1358.54px;font-size:20.5px;color:#fafafa;letter-spacing:0.767px;">2.77</span>
<span class="t" style="left:1896.60px;top:1358.54px;font-size:20.5px;color:#fafafa;letter-spacing:0.780px;">$94.21</span>
<span class="t" style="left:2144.00px;top:1362.08px;font-size:16.8px;color:#22c78b;letter-spacing:1.036px;-webkit-text-stroke:0.15px #22c78b;">Half Won</span>
<span class="t" style="left:2405.60px;top:1358.54px;font-size:20.5px;color:#22c55e;letter-spacing:1.133px;">+$83.56</span>
<span class="t" style="left:492.80px;top:1414.54px;font-size:20.5px;color:#9f9fa9;letter-spacing:-0.610px;">31 Jan</span>
<span class="t" style="left:680.00px;top:1414.54px;font-size:20.5px;color:#fafafa;letter-spacing:0.452px;-webkit-text-stroke:0.18px #fafafa;">Manchester United vs Liverpool</span>
<span class="t" style="left:1323.25px;top:1414.54px;font-size:20.5px;color:#9f9fa9;letter-spacing:0.750px;">Unibet</span>
<span class="t" style="left:1694.60px;top:1414.54px;font-size:20.5px;color:#fafafa;letter-spacing:0.767px;">2.60</span>
<span class="t" style="left:1883.50px;top:1414.54px;font-size:20.5px;color:#fafafa;letter-spacing:1.000px;">$123.53</span>
<span class="t" style="left:2183.00px;top:1418.08px;font-size:16.8px;color:#22c55e;letter-spacing:1.625px;-webkit-text-stroke:0.15px #22c55e;">Won</span>
<span class="t" style="left:2392.30px;top:1414.54px;font-size:20.5px;color:#22c55e;letter-spacing:1.157px;">+$197.40</span>
</div>
</body></html>
